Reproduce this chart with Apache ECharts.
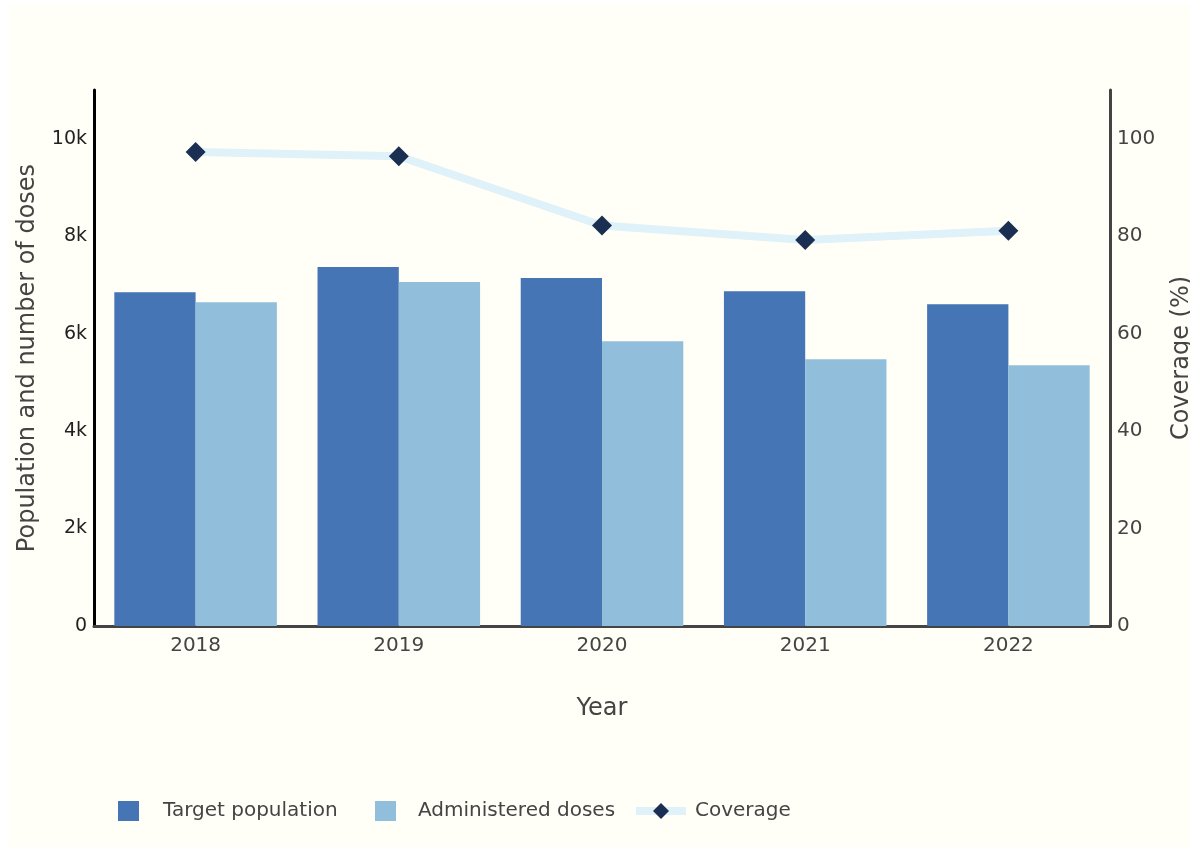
<!DOCTYPE html>
<html>
<head>
<meta charset="utf-8">
<script src="https://cdn.jsdelivr.net/npm/echarts@6/dist/echarts.min.js"></script>
<style>
  html, body { margin: 0; padding: 0; background: #ffffff; overflow: hidden; }
  #chart { position: absolute; left: 9px; top: 5px; width: 1181px; height: 842px; background: #fffff7; }
</style>
</head>
<body>
<div id="chart"></div>
<script>
const years = ['2018', '2019', '2020', '2021', '2022'];
const targetPopulation = [6850, 7365, 7140, 6870, 6605];
const administeredDoses = [6645, 7060, 5845, 5475, 5350];
const coverage = [97.3, 96.4, 82.2, 79.2, 81.1];

const chart = echarts.init(document.getElementById('chart'), null, { renderer: 'canvas', width: 1181, height: 842 });
const FONT = 'DejaVu Sans';

function legendBox(name, left, iconW, padLeft, icon) {
  const l = {
    show: true,
    data: [{ name: name, icon: icon }],
    left: left,
    top: 796,
    orient: 'horizontal',
    itemWidth: iconW,
    itemHeight: 20,
    selectedMode: false,
    padding: 0,
    textStyle: { fontFamily: FONT, fontSize: 20, color: '#444', padding: [0, 0, 0, padLeft] }
  };
  if (name === 'Coverage') {
    l.data = [name];
    l.lineStyle = { width: 8, color: '#dff1f9' };
    l.itemStyle = { color: '#1a2f52' };
  }
  return l;
}

chart.setOption({
  backgroundColor: '#fffff7',
  animation: false,
  textStyle: { fontFamily: FONT },
  grid: { left: 85, right: 80, top: 85, bottom: 221, containLabel: false, outerBoundsMode: 'none' },
  legend: [
    legendBox('Target population', 109, 21, 19, 'rect'),
    legendBox('Administered doses', 366, 21, 17, 'rect'),
    legendBox('Coverage', 623, 50, 4)
  ],
  xAxis: {
    type: 'category',
    data: years,
    name: 'Year',
    nameLocation: 'middle',
    nameGap: 71,
    nameTextStyle: { fontFamily: FONT, fontSize: 24, color: '#444' },
    axisLine: { show: true, lineStyle: { color: '#444', width: 3 } },
    axisTick: { show: false },
    axisLabel: { fontFamily: FONT, fontSize: 20, color: '#444', margin: 10 }
  },
  yAxis: [
    {
      type: 'value',
      min: 0,
      max: 11000,
      interval: 2000,
      name: 'Population and number of doses',
      nameLocation: 'middle',
      nameGap: 54,
      nameRotate: 90,
      nameTextStyle: { fontFamily: FONT, fontSize: 24, color: '#444' },
      axisLine: { show: true, lineStyle: { color: '#000', width: 3 } },
      axisTick: { show: false },
      splitLine: { show: false },
      axisLabel: {
        fontFamily: FONT, fontSize: 19, color: '#222', margin: 7,
        showMaxLabel: false,
        formatter: v => v === 0 ? '0' : (v / 1000) + 'k'
      }
    },
    {
      type: 'value',
      min: 0,
      max: 110,
      interval: 20,
      name: 'Coverage (%)',
      nameLocation: 'middle',
      nameGap: 60,
      nameRotate: 90,
      nameTextStyle: { fontFamily: FONT, fontSize: 24, color: '#444' },
      axisLine: { show: true, lineStyle: { color: '#444', width: 3 } },
      axisTick: { show: false },
      splitLine: { show: false },
      axisLabel: { fontFamily: FONT, fontSize: 20, color: '#444', margin: 7, showMaxLabel: false }
    }
  ],
  series: [
    {
      name: 'Target population',
      type: 'bar',
      data: targetPopulation,
      barWidth: '40%',
      barGap: '0%',
      itemStyle: { color: '#4575b4' }
    },
    {
      name: 'Administered doses',
      type: 'bar',
      data: administeredDoses,
      barWidth: '40%',
      barGap: '0%',
      itemStyle: { color: '#91bfdb' }
    },
    {
      name: 'Coverage',
      type: 'line',
      yAxisIndex: 1,
      data: coverage,
      symbol: 'diamond',
      symbolSize: 20,
      z: 5,
      itemStyle: { color: '#1a2f52' },
      lineStyle: { color: '#dff1f9', width: 8 }
    }
  ]
});
</script>
</body>
</html>
